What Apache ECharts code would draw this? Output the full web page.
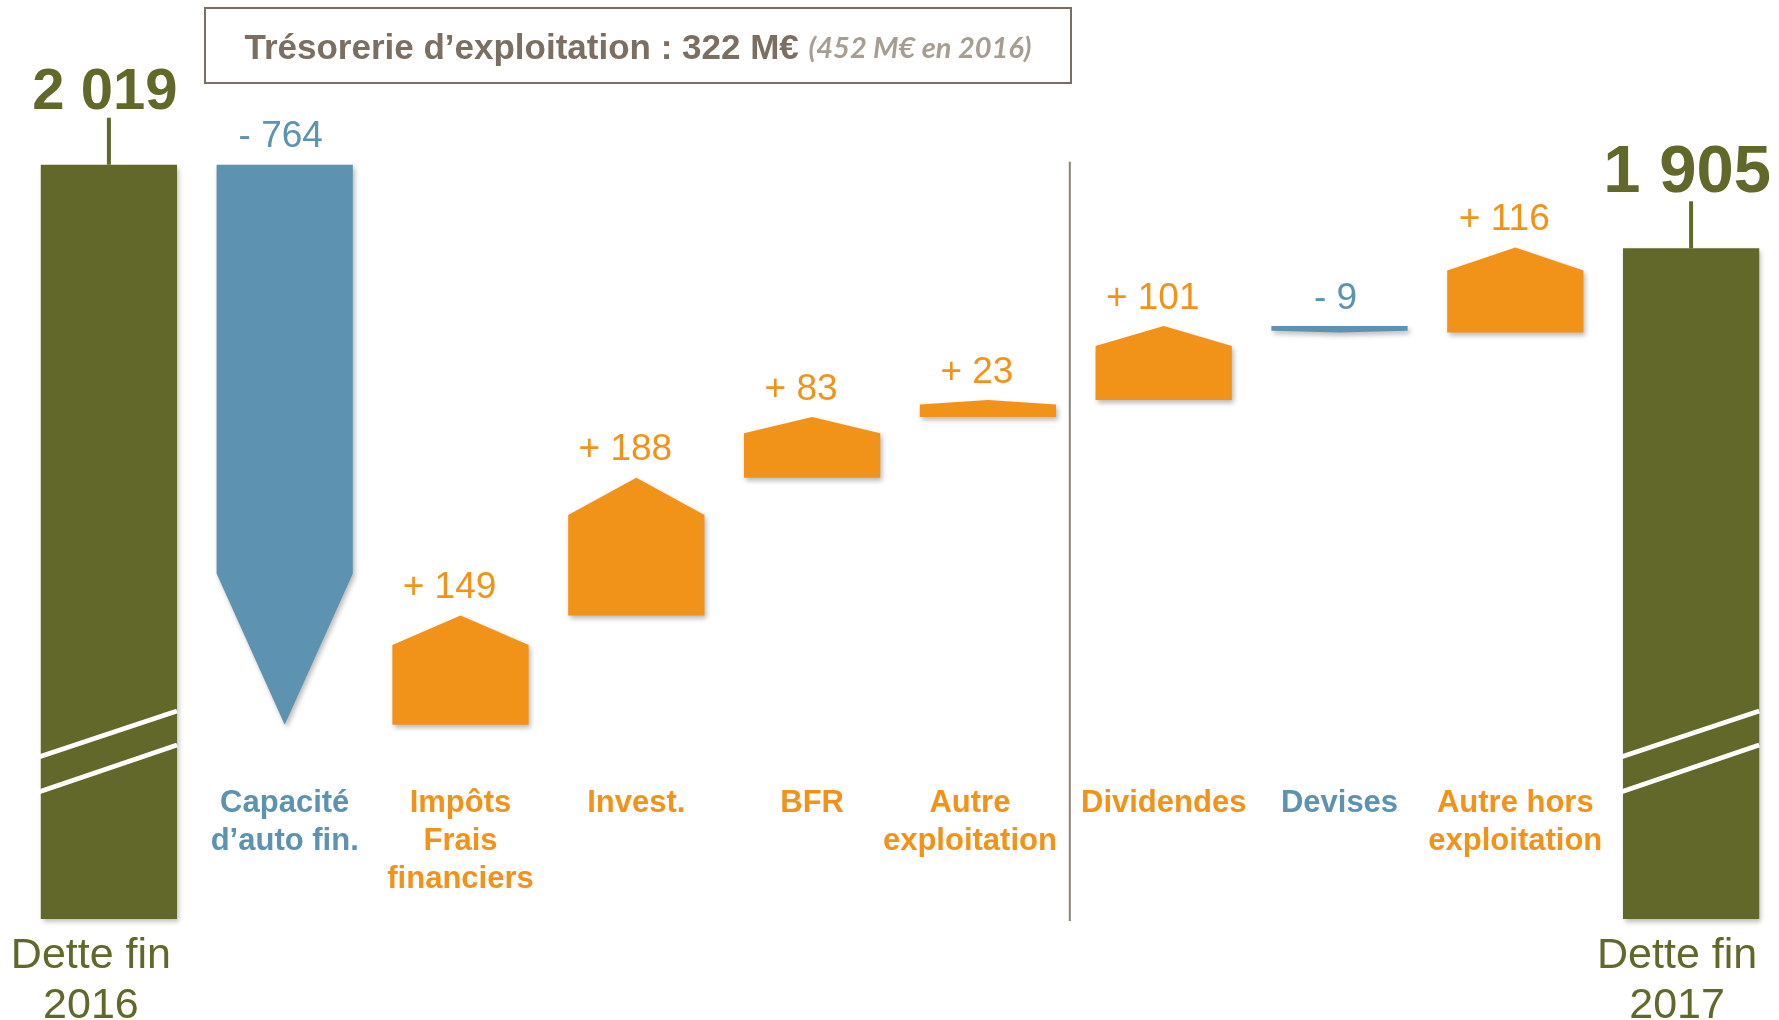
<!DOCTYPE html>
<html>
<head>
<meta charset="utf-8">
<title>Évolution de la dette 2016-2017</title>
<script src="https://cdn.jsdelivr.net/npm/echarts@6/dist/echarts.min.js"></script>
<style>
  html, body { margin: 0; padding: 0; background: #fff; }
  #main { width: 1779px; height: 1020px; }
</style>
</head>
<body>
<div id="main"></div>
<script>
// catégories (les deux extrémités = dette totale)
const categories = ['Dette fin\n2016', 'Capacité\nd’auto fin.', 'Impôts\nFrais\nfinanciers', 'Invest.', 'BFR', 'Autre\nexploitation', 'Dividendes', 'Devises', 'Autre hors\nexploitation', 'Dette fin\n2017'];
// variations de la dette, en M€
const variations = [-764, 149, 188, 83, 23, 101, -9, 116];
const detteDebut = 2019;
const detteFin = 1905;
const titre = 'Trésorerie d’exploitation : 322 M€';
const titreNote = '(452 M€ en 2016)';
// première catégorie hors exploitation (séparateur avant elle)
const debutHorsExploitation = 6;

// axe coupé : les barres de dette partent de Y_MIN
const Y_MIN = 990;
const Y_MAX = 2050;

const VERT = '#62672a';
const BLEU = '#5d93b0';
const ORANGE = '#f29319';
const GRIS = '#7b6f63';
const GRIS_CLAIR = '#a69d93';
const FONT = '"Liberation Sans", Arial, sans-serif';

// construction des marches de la cascade
const items = [];
let cumul = detteDebut;
items.push([0, Y_MIN, detteDebut, 0]);
variations.forEach((v, i) => {
  items.push([i + 1, cumul, cumul + v, v]);
  cumul += v;
});
items.push([categories.length - 1, Y_MIN, detteFin, 0]);

const fmtMillier = n => String(n).replace(/\B(?=(\d{3})+(?!\d))/g, ' ');

const ombre = {
  shadowBlur: 5,
  shadowOffsetX: 2,
  shadowOffsetY: 3,
  shadowColor: 'rgba(0,0,0,0.28)'
};

function renderItem(params, api) {
  const idx = api.value(0);
  const debut = api.value(1);
  const fin = api.value(2);
  const delta = api.value(3);
  const bande = api.size([1, 0])[0];
  const w = bande * 0.775;
  const pTop = api.coord([idx, fin]);
  const cx = pTop[0];
  const x0 = cx - w / 2;
  const x1 = cx + w / 2;

  // barres de dette (totaux)
  if (delta === 0) {
    const top = pTop[1];
    const bottom = api.coord([idx, Y_MIN])[1];
    const premier = idx === 0;
    const fs = premier ? 58 : 67;
    const tickLen = 47;
    return {
      type: 'group',
      children: [
        {
          type: 'rect',
          shape: { x: x0, y: top, width: w, height: bottom - top },
          style: Object.assign({ fill: VERT }, ombre)
        },
        // marques de coupure
        {
          type: 'line',
          shape: { x1: x0 - 5, y1: bottom - 161, x2: x1, y2: bottom - 208 },
          style: { stroke: '#fff', lineWidth: 5 }
        },
        {
          type: 'line',
          shape: { x1: x0 - 5, y1: bottom - 126, x2: x1, y2: bottom - 174 },
          style: { stroke: '#fff', lineWidth: 5 }
        },
        {
          type: 'line',
          shape: { x1: cx, y1: top, x2: cx, y2: top - tickLen },
          style: { stroke: VERT, lineWidth: 4 }
        },
        {
          type: 'text',
          style: {
            text: fmtMillier(fin),
            x: cx - 4,
            y: top - tickLen - 4 + 0.15 * fs,
            fill: VERT,
            font: 'bold ' + fs + 'px ' + FONT,
            align: 'center',
            verticalAlign: 'bottom'
          }
        }
      ]
    };
  }

  // variations : flèche vers le haut ou vers le bas
  const ys = api.coord([idx, debut])[1];
  const ye = pTop[1];
  const tete = 0.27 * Math.abs(ys - ye);
  const monte = ye < ys;
  const epaule = monte ? ye + tete : ye - tete;
  const couleur = delta > 0 ? ORANGE : BLEU;
  const haut = Math.min(ys, ye);
  const children = [
    {
      type: 'polygon',
      shape: { points: [[x0, ys], [x1, ys], [x1, epaule], [cx, ye], [x0, epaule]] },
      style: Object.assign({ fill: couleur }, ombre)
    },
    {
      type: 'text',
      style: {
        text: (delta > 0 ? '+ ' : '- ') + Math.abs(delta),
        x: cx + (delta > 0 ? -11 : -4),
        y: haut - 9,
        fill: couleur,
        font: '37px ' + FONT,
        align: 'center',
        verticalAlign: 'bottom'
      }
    }
  ];
  // séparateur exploitation / hors exploitation
  if (idx === debutHorsExploitation) {
    const xs = cx - bande / 2 - 6;
    children.push({
      type: 'line',
      shape: {
        x1: xs, y1: api.coord([idx, detteDebut])[1] - 3,
        x2: xs, y2: api.coord([idx, Y_MIN])[1] + 2
      },
      style: { stroke: '#8c8378', lineWidth: 2 }
    });
  }
  return { type: 'group', children: children };
}

// étiquettes décalées vers la gauche (texte riche ligne par ligne)
const richLigne = (tag, val) => val.split('\n').map(s => '{' + tag + '|' + s + '}').join('\n');

const styleDette = { color: VERT, fontSize: 43, lineHeight: 50, fontFamily: FONT };
const styleCat = { fontSize: 31, fontWeight: 'bold', lineHeight: 38, fontFamily: FONT };

const chart = echarts.init(document.getElementById('main'));

const option = {
  animation: false,
  backgroundColor: '#fff',
  grid: { left: 21, right: 0, top: 142, bottom: 101, outerBoundsMode: 'none', containLabel: false },
  xAxis: [
    {
      type: 'category',
      data: categories,
      axisLine: { show: false },
      axisTick: { show: false },
      splitLine: { show: false },
      axisLabel: Object.assign({
        interval: 0,
        margin: 12,
        formatter: (val, i) => {
          if (i === 0) return richLigne('l', val);
          if (i === categories.length - 1) return richLigne('r', val);
          return '';
        },
        rich: {
          l: Object.assign({ padding: [0, 36, 0, 0] }, styleDette),
          r: Object.assign({ padding: [0, 28, 0, 0] }, styleDette)
        }
      }, styleDette)
    },
    {
      type: 'category',
      data: categories,
      position: 'bottom',
      offset: -135,
      axisLine: { show: false },
      axisTick: { show: false },
      axisLabel: Object.assign({
        interval: 0,
        margin: 0,
        formatter: (val, i) => {
          if (i === 0 || i === categories.length - 1) return '';
          if (i === debutHorsExploitation - 1) return richLigne('d', val);
          return val;
        },
        color: (val, i) => (variations[i - 1] < 0 ? BLEU : ORANGE),
        rich: {
          d: Object.assign({ color: ORANGE, padding: [0, 36, 0, 0] }, styleCat)
        }
      }, styleCat)
    }
  ],
  yAxis: {
    type: 'value',
    min: Y_MIN,
    max: Y_MAX,
    show: false
  },
  series: [
    {
      type: 'custom',
      xAxisIndex: 0,
      renderItem: renderItem,
      encode: { x: 0, y: [1, 2] },
      data: items
    }
  ],
  graphic: [
    {
      type: 'rect',
      shape: { x: 205, y: 8, width: 866, height: 75 },
      style: { fill: '#fff', stroke: GRIS, lineWidth: 2 }
    },
    {
      type: 'text',
      style: {
        text: '{a|' + titre + ' }{b|' + titreNote + '}',
        x: 638,
        y: 49,
        align: 'center',
        verticalAlign: 'middle',
        rich: {
          a: { fontFamily: FONT, fontWeight: 'bold', fontSize: 35, fill: GRIS, color: GRIS },
          b: { fontFamily: 'Lato, "Open Sans", sans-serif', fontWeight: 'bold', fontStyle: 'italic', fontSize: 29, fill: GRIS_CLAIR, color: GRIS_CLAIR }
        }
      }
    }
  ]
};

chart.setOption(option);
</script>
</body>
</html>
